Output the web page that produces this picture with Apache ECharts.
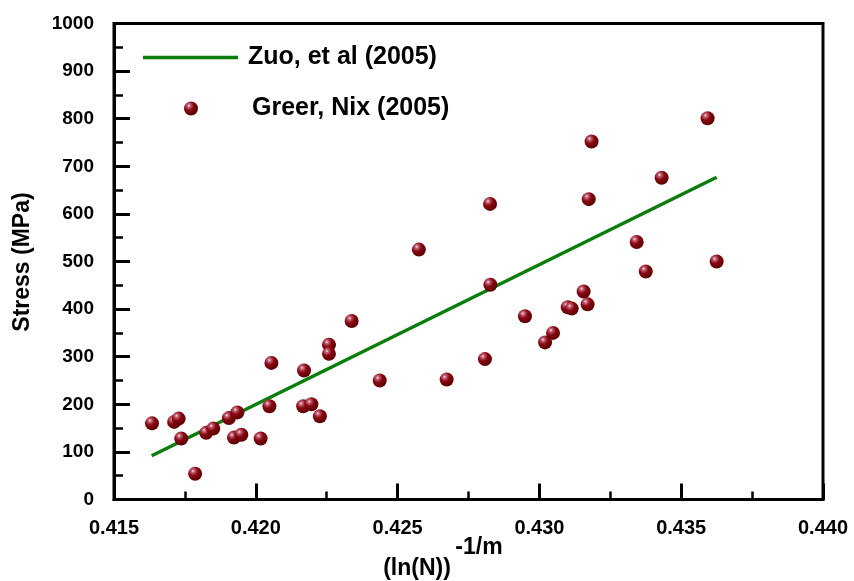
<!DOCTYPE html>
<html>
<head>
<meta charset="utf-8">
<script src="https://cdn.jsdelivr.net/npm/echarts@6/dist/echarts.min.js"></script>
<style>
  html, body { margin: 0; padding: 0; background: #fff; }
  #chart { width: 854px; height: 581px; }
</style>
</head>
<body>
<div id="chart"></div>
<script>
// 数据: Greer, Nix (2005) 实验点
const greerX = [0.41634, 0.41712, 0.41728, 0.41737, 0.41786, 0.41825, 0.41850, 0.41905, 0.41935, 0.41923,
    0.41949, 0.42017, 0.42048, 0.42055, 0.42167, 0.42170, 0.42196, 0.42226, 0.42258, 0.42258,
    0.42338, 0.42437, 0.42575, 0.42673, 0.42808, 0.42827, 0.42826, 0.42949, 0.43020, 0.43048,
    0.43100, 0.43114, 0.43156, 0.43170, 0.43174, 0.43184, 0.43343, 0.43375, 0.43431, 0.43593, 0.43625];
const greerY = [160, 163, 170, 128, 54, 140, 149, 171, 183, 130,
    136, 128, 196, 287, 196, 271, 200, 175, 325, 306,
    375, 250, 525, 252, 295, 451, 621, 385, 330, 350,
    404, 401, 437, 410, 631, 752, 541, 479, 676, 801, 500];

// Zuo, et al (2005) 拟合线
const zuoX = [0.41633, 0.43625];
const zuoY = [92, 677];

const xTicks = { min: 0.415, max: 0.440, step: 0.005 };
const yTicks = { min: 0, max: 1000, step: 100 };

const chart = echarts.init(document.getElementById('chart'));

const ballColor = {
    type: 'radial', x: 0.35, y: 0.3, r: 0.75,
    colorStops: [
        { offset: 0, color: '#ffe6ee' },
        { offset: 0.15, color: '#c46478' },
        { offset: 0.45, color: '#880812' },
        { offset: 1, color: '#560000' }
    ]
};

const fontFam = 'Liberation Sans, Arial, sans-serif';
const boldFont = { fontFamily: fontFam, fontWeight: 'bold', color: '#000' };

chart.setOption({
    backgroundColor: '#fff',
    animation: false,
    grid: {
        left: 114, right: 31, top: 23.5, bottom: 81.5,
        show: true, borderColor: '#000', borderWidth: 3
    },
    legend: [
        {
            data: [{ name: 'Zuo, et al (2005)', icon: 'rect' }],
            left: 143, top: 45, padding: 0,
            itemWidth: 95, itemHeight: 3.5,
            textStyle: Object.assign({ fontSize: 25, padding: [0, 0, 0, 5] }, boldFont)
        },
        {
            data: ['Greer, Nix (2005)'],
            left: 184, top: 96, padding: 0,
            itemWidth: 14, itemHeight: 14,
            textStyle: Object.assign({ fontSize: 25, padding: [0, 0, 0, 49] }, boldFont)
        }
    ],
    xAxis: {
        type: 'value',
        min: xTicks.min, max: xTicks.max, interval: xTicks.step,
        axisLine: { show: true, onZero: false, lineStyle: { color: '#000', width: 3 } },
        axisTick: { show: true, inside: true, length: 16, lineStyle: { color: '#000', width: 3 } },
        minorTick: { show: true, splitNumber: 2, length: 8, lineStyle: { color: '#000', width: 2.5 } },
        splitLine: { show: false },
        axisLabel: Object.assign({ fontSize: 20, margin: 19, formatter: v => v.toFixed(3) }, boldFont)
    },
    yAxis: {
        type: 'value',
        min: yTicks.min, max: yTicks.max, interval: yTicks.step,
        axisLine: { show: true, onZero: false, lineStyle: { color: '#000', width: 3 } },
        axisTick: { show: true, inside: true, length: 16, lineStyle: { color: '#000', width: 3 } },
        minorTick: { show: true, splitNumber: 2, length: 9, lineStyle: { color: '#000', width: 2.5 } },
        splitLine: { show: false },
        axisLabel: Object.assign({ fontSize: 19, margin: 20, formatter: v => String(v) }, boldFont)
    },
    graphic: [
        {
            type: 'text', x: 23, y: 262, rotation: Math.PI / 2,
            style: { text: 'Stress (MPa)', fontSize: 23, align: 'center', verticalAlign: 'middle', fill: '#000',
                fontFamily: fontFam, fontWeight: 'bold' }
        },
        {
            type: 'text', x: 479, y: 548,
            style: { text: '-1/m', fontSize: 23, align: 'center', verticalAlign: 'middle', fill: '#000',
                fontFamily: fontFam, fontWeight: 'bold' }
        },
        {
            type: 'text', x: 417, y: 569,
            style: { text: '(ln(N))', fontSize: 23, align: 'center', verticalAlign: 'middle', fill: '#000',
                fontFamily: fontFam, fontWeight: 'bold' }
        }
    ],
    series: [
        {
            name: 'Zuo, et al (2005)',
            type: 'line',
            symbol: 'none',
            showSymbol: false,
            data: zuoX.map((x, i) => [x, zuoY[i]]),
            lineStyle: { color: '#0a7d0a', width: 3.5 },
            itemStyle: { color: '#0a7d0a' },
            z: 2
        },
        {
            name: 'Greer, Nix (2005)',
            type: 'scatter',
            symbol: 'circle',
            symbolSize: 14,
            data: greerX.map((x, i) => [x, greerY[i]]),
            itemStyle: { color: ballColor, opacity: 1 },
            z: 3
        }
    ]
});

window.addEventListener('resize', function () {
    chart.resize();
});
</script>
</body>
</html>
